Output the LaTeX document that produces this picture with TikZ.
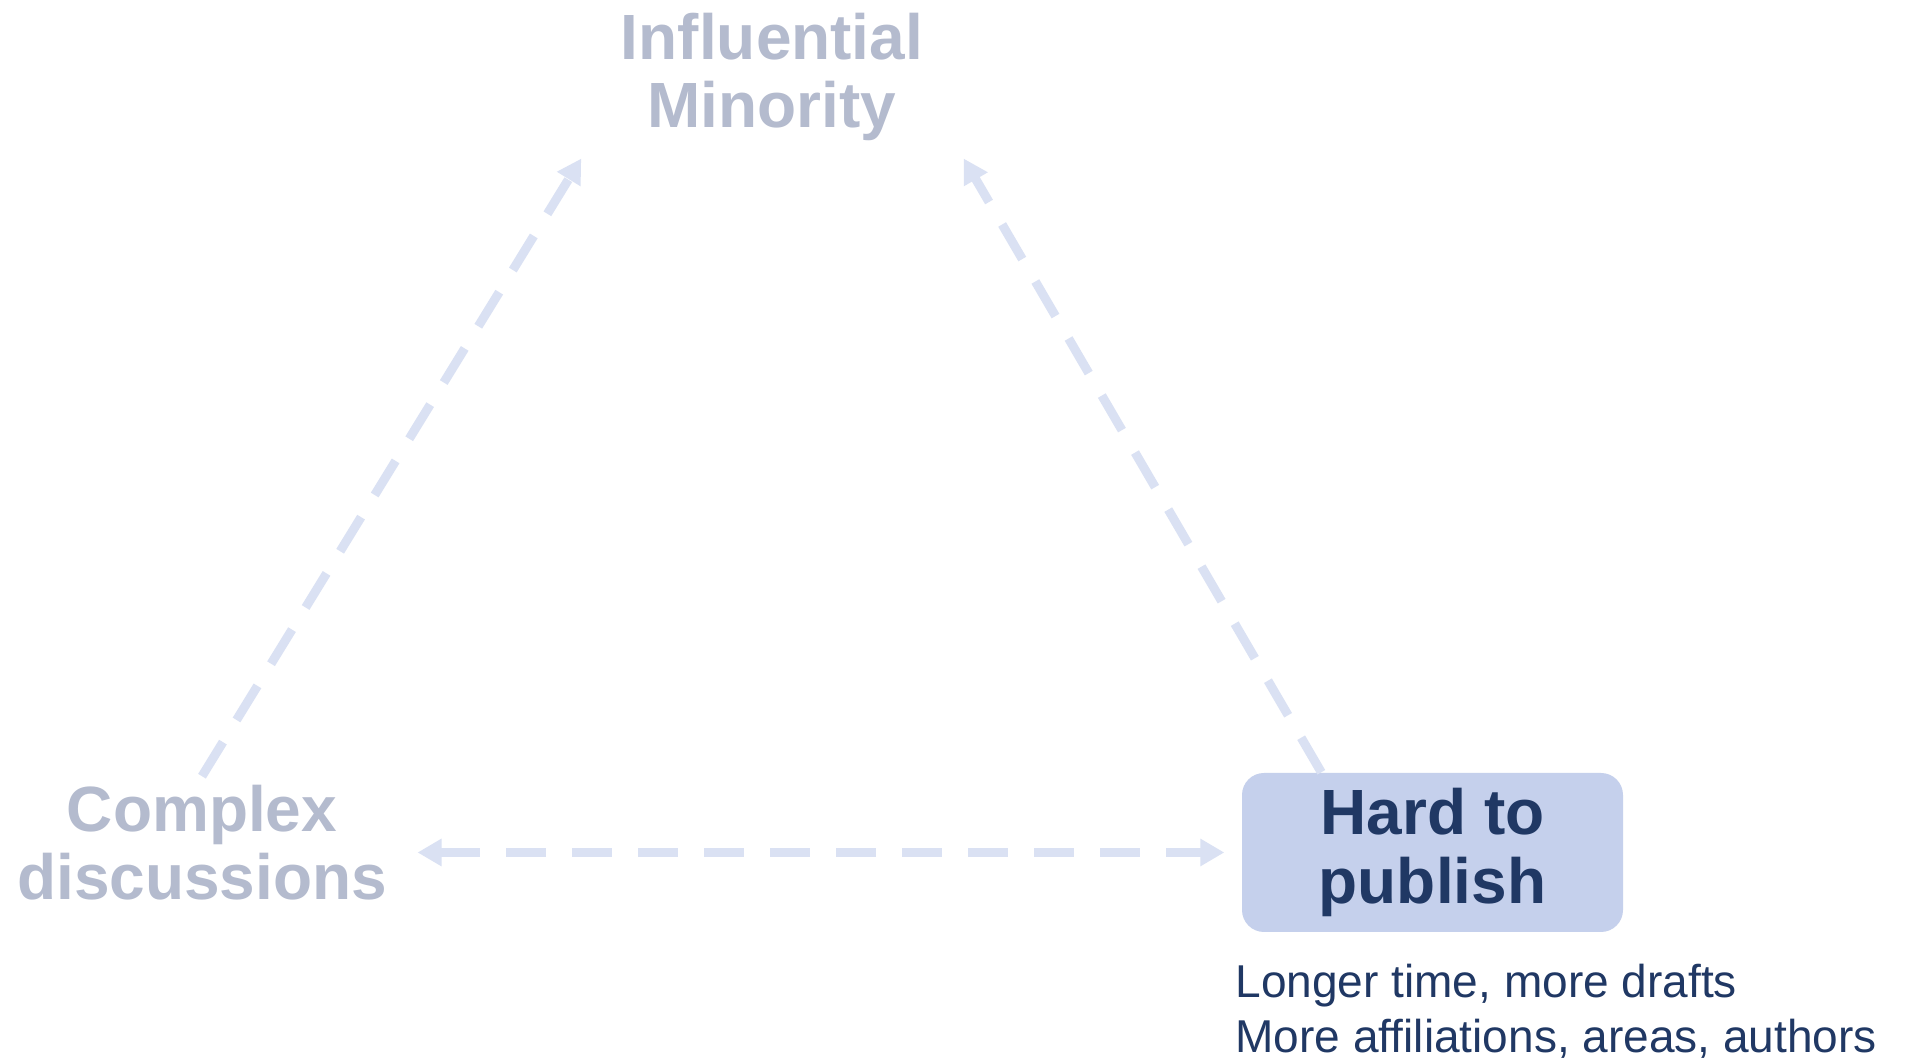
\documentclass[tikz,border=0pt]{standalone}
\usepackage{fontspec}
\setmainfont{Liberation Sans}
\usetikzlibrary{arrows.meta,positioning}
\definecolor{navy}{HTML}{203864}
\definecolor{fade}{HTML}{B4BBCE}
\definecolor{boxblue}{HTML}{C5D0EC}
\definecolor{linkblue}{HTML}{DAE1F3}

\tikzset{
  >={Triangle[length=0.24cm,width=0.26cm]},
  faded/.style={text=fade,font=\bfseries\fontsize{18.2}{19.4}\selectfont,align=center,inner sep=0.14cm},
  pubbox/.style={fill=boxblue,rounded corners=0.22cm,minimum width=3.81cm,minimum height=1.59cm,
    text=navy,font=\bfseries\fontsize{18.2}{19.4}\selectfont,align=center,inner sep=0.1cm},
  note/.style={text=navy,font=\fontsize{13.1}{15.65}\selectfont,align=left,inner sep=0pt},
  link/.style={linkblue,line width=0.09cm,dash pattern=on 0.4cm off 0.26cm}
}

\begin{document}
\begin{tikzpicture}
        \fill[white] (0,0) rectangle (19.11,10.63);
        \useasboundingbox (0,0) rectangle (19.11,10.63);

        \node[faded] (infl) at (7.72,9.86) {Influential\\Minority};
        \node[faded] (complex) at (2.02,2.205) {Complex\\discussions};
        \node[pubbox] (pub) at (14.325,2.105) {Hard to\\publish};
        \node[note,below right=0.31cm and -0.065cm of pub.south west] (notes) {Longer time, more drafts\\More affiliations, areas, authors};

        \draw[link,->] ([yshift=-0.06cm]complex.north) -- ([xshift=-0.25cm,yshift=-0.03cm]infl.south west);
        \draw[link,->] ([xshift=0.8cm]pub.north west) -- ([xshift=0.26cm,yshift=-0.03cm]infl.south east);
        \draw[link,<->,shorten <=0.16cm,shorten >=0.17cm] (complex.east |- pub.west) -- (pub.west);

      \end{tikzpicture}
\end{document}
